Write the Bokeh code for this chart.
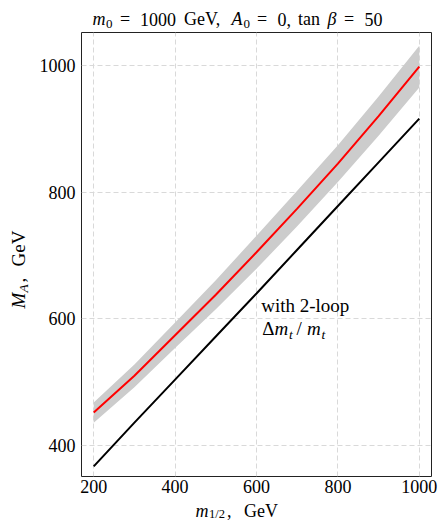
import math

from bokeh.plotting import figure
from bokeh.models import Label, FixedTicker, Range1d, ColumnDataSource
from bokeh.layouts import column, row
from bokeh.core.properties import value
from bokeh.embed import file_html
from bokeh.resources import INLINE

# m_1/2 grid (GeV)
m_half = [200, 300, 400, 500, 600, 700, 800, 900, 1000]
# M_A with two-loop top-mass correction (central curve) and its uncertainty band
ma_central = [452, 510, 574, 638, 705, 774, 845, 920, 998]
ma_band_lo = [436, 492, 554, 615, 679, 746, 816, 889, 965]
ma_band_hi = [468, 528, 594, 661, 731, 802, 874, 951, 1031]
# M_A without the correction
ma_plain = [367, 436, 504, 572, 640, 709, 778, 847, 916]

x_ticks = [200, 400, 600, 800, 1000]
y_ticks = [400, 600, 800, 1000]

FONT = "Liberation Serif"
W, H = 438, 521
TOP_H = 32          # title strip
YLAB_W = 36         # y-label strip
MAIN_H = 468        # frame 444 + tick labels
BOT_H = H - TOP_H - MAIN_H
# Bokeh's "alphabetic" anchor sits a bit above the glyph baseline; compensate
BASE_K = 0.36


def text_strip(w, h):
    f = figure(width=w, height=h, output_backend="svg", toolbar_location=None,
               x_range=Range1d(0, w), y_range=Range1d(0, h),
               x_axis_location=None, y_axis_location=None,
               min_border_left=0, min_border_right=0,
               min_border_top=0, min_border_bottom=0,
               frame_align=False)
    f.grid.visible = False
    f.outline_line_color = None
    f.background_fill_color = "white"
    f.border_fill_color = "white"
    return f


def put(fig, left, top, pieces, rotated=False):
    """pieces: (text, page_x, page_y, size_px, style), baseline-start positions on the page."""
    h = fig.height
    for txt, cx, cy, size, style in pieces:
        if rotated:
            cx -= BASE_K * size
        else:
            cy -= BASE_K * size
        src = ColumnDataSource(dict(x=[cx - left], y=[top + h - cy], t=[txt]))
        fig.text(x="x", y="y", text="t", source=src, text_font=value(FONT),
                 text_font_size=value(f"{size}px"), text_font_style=value(style),
                 text_baseline="alphabetic", text_align="left",
                 angle=math.pi / 2 if rotated else 0.0, text_color="black")


# ---- title strip: m_0 = 1000 GeV, A_0 = 0, tan beta = 50
title = text_strip(W, TOP_H)
ty = 25
put(title, 0, 0, [
    ("m", 92.0, ty, 18, "italic"),
    ("0", 105.5, ty + 3, 13, "normal"),
    ("=", 119.5, ty, 18, "normal"),
    ("1000", 139.5, ty, 18, "normal"),
    ("GeV,", 183.5, ty, 18, "normal"),
    ("A", 231.0, ty, 18, "italic"),
    ("0", 243.0, ty + 3, 13, "normal"),
    ("=", 256.5, ty, 18, "normal"),
    ("0,", 277.0, ty, 18, "normal"),
    ("tan", 297.5, ty, 18, "normal"),
    ("β", 327.0, ty, 18, "italic"),
    ("=", 343.5, ty, 18, "normal"),
    ("50", 364.0, ty, 18, "normal"),
])

# ---- y-label strip: M_A, GeV (reads bottom to top)
ylab = text_strip(YLAB_W, MAIN_H)
yx = 25
put(ylab, 0, TOP_H, [
    ("M", yx, 308, 19, "italic"),
    ("A", yx + 3, 292, 13.5, "italic"),
    (",", yx, 282, 19, "normal"),
    ("GeV", yx, 266, 19, "normal"),
], rotated=True)

# ---- main plot
p = figure(width=W - YLAB_W, height=MAIN_H, output_backend="svg", toolbar_location=None,
           x_range=Range1d(170, 1030), y_range=Range1d(351, 1052),
           min_border_left=45, min_border_right=7,
           min_border_top=0, min_border_bottom=MAIN_H - 444, frame_align=False)

p.varea(x=m_half, y1=ma_band_lo, y2=ma_band_hi, fill_color="#cccccc", fill_alpha=1.0)
p.line(m_half, ma_central, line_color="#ff0000", line_width=2)
p.line(m_half, ma_plain, line_color="black", line_width=2)

p.xaxis.ticker = FixedTicker(ticks=x_ticks)
p.yaxis.ticker = FixedTicker(ticks=y_ticks)
for ax in (p.xaxis[0], p.yaxis[0]):
    ax.major_label_text_font = FONT
    ax.major_label_text_font_size = "18px"
    ax.major_label_text_color = "black"
    ax.major_tick_in = 0
    ax.major_tick_out = 0
    ax.minor_tick_in = 0
    ax.minor_tick_out = 0
    ax.axis_line_color = None
p.xaxis.major_label_standoff = 3
p.yaxis.major_label_standoff = 6

p.grid.grid_line_color = "#d9d9d9"
p.grid.grid_line_dash = "5 3"
p.grid.grid_line_width = 1
p.outline_line_color = "#222222"
p.outline_line_width = 1
p.background_fill_color = "white"
p.border_fill_color = "white"

FRAME_LEFT, FRAME_BOTTOM = YLAB_W + 45, TOP_H + 444


def note(txt, cx, cy, size=19, style="normal"):
    cy -= BASE_K * size
    p.add_layout(Label(x=cx - FRAME_LEFT, y=FRAME_BOTTOM - cy, x_units="screen", y_units="screen",
                       text=txt, text_font=FONT, text_font_size=f"{size}px",
                       text_font_style=style, text_baseline="alphabetic",
                       text_align="left", text_color="black"))


note("with 2-loop", 260.7, 311.7)
note("Δ", 261.7, 335)
note("m", 274.0, 335, style="italic")
note("t", 288.5, 338.5, size=13.5, style="italic")
note("/", 296.0, 335)
note("m", 306.5, 335, style="italic")
note("t", 321.0, 338.5, size=13.5, style="italic")

# ---- x-label strip: m_{1/2}, GeV
xlab = text_strip(W, BOT_H)
xy = 516.5
put(xlab, 0, TOP_H + MAIN_H, [
    ("m", 195.0, xy, 18, "italic"),
    ("1/2", 208.5, 518.0, 12.5, "normal"),
    (",", 226.5, xy, 18, "normal"),
    ("GeV", 243.5, xy, 18, "normal"),
])

layout = column(title, row(ylab, p), xlab)
open("out.html", "w").write(file_html(layout, INLINE))
